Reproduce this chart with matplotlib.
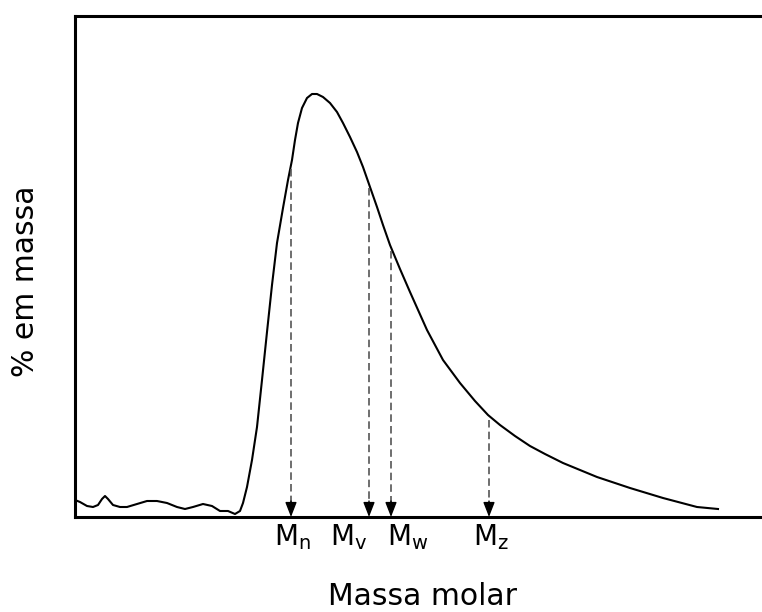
import numpy as np
import matplotlib
matplotlib.use("Agg")
import matplotlib.pyplot as plt

# -------------------- data -------------------- #
# arbitrary units (molar mass on x, mass fraction on y)
massa = [0, 5, 12, 18, 23, 27, 30, 33, 38, 45, 52, 62, 72, 82, 92, 102,
         110, 118, 128, 137, 145, 153, 160, 165, 168, 172, 177, 182, 187, 192,
         197, 202, 208, 213, 217, 220, 223, 227, 232, 237, 242, 248, 255, 262,
         268, 275, 282, 288, 295, 302, 308, 315, 325, 335, 352, 368, 385, 400,
         413, 425, 440, 455, 470, 488, 522, 555, 588, 622, 643]
fracao = [17, 15, 11, 10, 12, 18, 21, 18, 12, 10, 10, 13, 16, 16, 14, 10,
          8, 10, 13, 11, 6, 6, 3, 6, 14, 30, 57, 90, 137, 185,
          232, 274, 309, 337, 357, 377, 394, 409, 419, 423, 423, 420, 414, 405,
          394, 380, 365, 350, 330, 310, 292, 272, 248, 225, 187, 157, 134, 116,
          102, 92, 81, 71, 63, 54, 40, 29, 19, 10, 8]

medias = ["n", "v", "w", "z"]
medias_x = [216, 294, 316, 414]
rotulo_ha = ["center", "right", "left", "center"]
rotulo_dx = [1, -1, -3, 1]   # label nudge in points

# -------------------- plot -------------------- #
fig = plt.figure(figsize=(7.62, 6.12), dpi=100)
ax = fig.add_axes([75 / 762, 95 / 612, 696 / 762, 501 / 612])

ax.plot(massa, fracao, color="black", lw=1.5, solid_joinstyle="round")

for nome, xm, ha, dx in zip(medias, medias_x, rotulo_ha, rotulo_dx):
    topo = np.interp(xm, massa, fracao)
    ax.plot([xm, xm], [topo - 4, 14], color="#555555", lw=1.2,
            linestyle=(0, (4.5, 2.5)))
    ax.annotate("", xy=(xm, 0), xytext=(xm, 16),
                arrowprops=dict(arrowstyle="-|>,head_length=0.9,head_width=0.35",
                                color="black", lw=1.0, shrinkA=0, shrinkB=0))
    ax.annotate("M$_\\mathregular{" + nome + "}$", xy=(xm, 0), xytext=(dx, -4),
                textcoords="offset points", ha=ha, va="top", fontsize=20)

ax.set_xlim(0, 696)
ax.set_ylim(0, 501)
ax.set_xticks([])
ax.set_yticks([])
for s in ax.spines.values():
    s.set_linewidth(2.2)

ax.set_xlabel("Massa molar", fontsize=21.5)
ax.set_ylabel("% em massa", fontsize=21.5)
ax.xaxis.set_label_coords(0.5, -0.13)
ax.yaxis.set_label_coords(-0.05, 0.471)

fig.savefig("out.png", dpi=100)
